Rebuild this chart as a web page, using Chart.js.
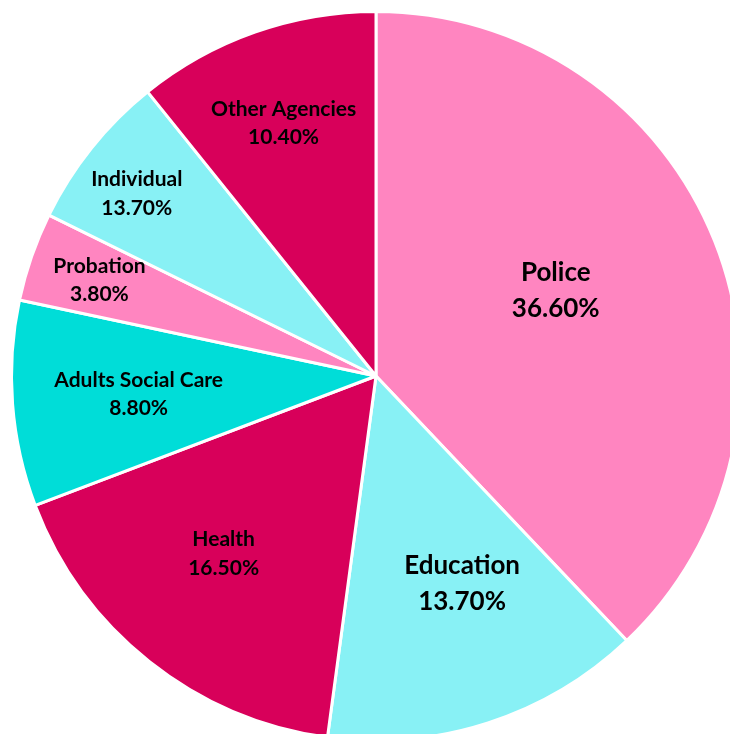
<!DOCTYPE html>
<html>
<head>
<meta charset="utf-8">
<script src="https://cdn.jsdelivr.net/npm/chart.js@4.4.0/dist/chart.umd.min.js"></script>
<style>
  html, body { margin: 0; padding: 0; background: #fff; overflow: hidden; }
  #pieChart { display: block; }
</style>
</head>
<body>
<canvas id="pieChart" width="752" height="752"></canvas>
<script>
// categories and the slice sizes as drawn in the picture
const categories = ['Police', 'Education', 'Health', 'Adults Social Care', 'Probation', 'Individual', 'Other Agencies'];
const sliceValues = [36.6, 13.7, 16.5, 8.8, 3.8, 6.7, 10.4];
// percentage text printed on each slice
const percentLabels = ['36.60%', '13.70%', '16.50%', '8.80%', '3.80%', '13.70%', '10.40%'];

const sliceColors = ['#FF85C0', '#88F1F5', '#D8005A', '#00DDD8', '#FF85C0', '#88F1F5', '#D8005A'];

// label placement: fraction of radius, angle shift (deg) from slice middle, font size
const labelRadius = [0.546, 0.617, 0.642, 0.653, 0.803, 0.825, 0.738];
const labelShift = [-3.7, -4.6, 2.2, 0, 0, -1.4, -0.7];
const labelSize = [26, 26, 21, 21, 21, 21, 21];

const sliceLabels = {
  id: 'sliceLabels',
  afterDatasetsDraw(chart) {
    const ctx = chart.ctx;
    const meta = chart.getDatasetMeta(0);
    ctx.save();
    ctx.fillStyle = '#000';
    ctx.textAlign = 'center';
    ctx.textBaseline = 'middle';
    meta.data.forEach((arc, i) => {
      const mid = (arc.startAngle + arc.endAngle) / 2 + labelShift[i] * Math.PI / 180;
      const r = arc.outerRadius * labelRadius[i];
      const x = arc.x + Math.cos(mid) * r;
      const y = arc.y + Math.sin(mid) * r;
      const size = labelSize[i];
      const gap = size * 0.68;
      ctx.font = 'bold ' + size + 'px Lato, "Open Sans", sans-serif';
      ctx.fillText(categories[i], x, y - gap);
      ctx.fillText(percentLabels[i], x, y + gap);
    });
    ctx.restore();
  }
};

new Chart(document.getElementById('pieChart'), {
  type: 'pie',
  data: {
    labels: categories,
    datasets: [{
      data: sliceValues,
      backgroundColor: sliceColors,
      borderColor: '#ffffff',
      borderWidth: 3
    }]
  },
  options: {
    responsive: false,
    animation: false,
    layout: { padding: 10 },
    plugins: {
      legend: { display: false },
      tooltip: { enabled: false }
    }
  },
  plugins: [sliceLabels]
});
</script>
</body>
</html>
